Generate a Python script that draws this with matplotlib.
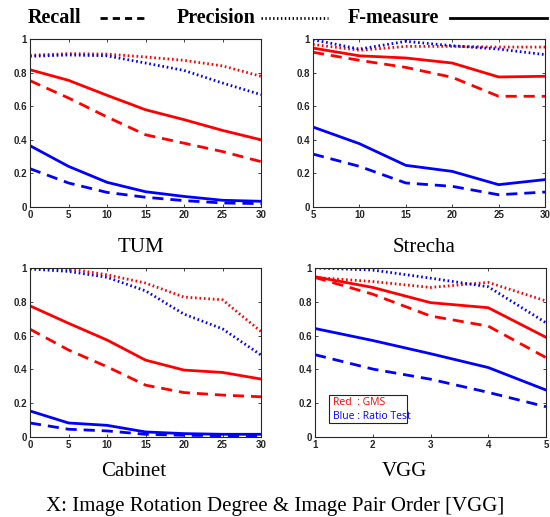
import matplotlib
matplotlib.use("Agg")
import matplotlib.pyplot as plt
from matplotlib.lines import Line2D

# ---- data ----
x_rot = [0, 5, 10, 15, 20, 25, 30]
x_strecha = [5, 10, 15, 20, 25, 30]
x_vgg = [1, 2, 3, 4, 5]

tum_gms_prec = [0.903, 0.913, 0.910, 0.893, 0.873, 0.840, 0.778]
tum_rt_prec = [0.897, 0.905, 0.900, 0.857, 0.813, 0.738, 0.669]
tum_gms_f = [0.817, 0.754, 0.665, 0.579, 0.520, 0.456, 0.400]
tum_gms_rec = [0.752, 0.649, 0.536, 0.430, 0.380, 0.330, 0.270]
tum_rt_f = [0.365, 0.242, 0.147, 0.091, 0.063, 0.040, 0.034]
tum_rt_rec = [0.228, 0.143, 0.087, 0.058, 0.038, 0.024, 0.020]

str_gms_prec = [0.968, 0.933, 0.956, 0.956, 0.952, 0.952]
str_rt_prec = [0.996, 0.940, 0.986, 0.960, 0.940, 0.907]
str_gms_f = [0.946, 0.900, 0.887, 0.857, 0.774, 0.778]
str_gms_rec = [0.921, 0.873, 0.831, 0.772, 0.659, 0.659]
str_rt_f = [0.476, 0.377, 0.248, 0.212, 0.133, 0.163]
str_rt_rec = [0.315, 0.242, 0.143, 0.123, 0.073, 0.089]

cab_gms_prec = [1.000, 0.996, 0.960, 0.911, 0.828, 0.812, 0.624]
cab_rt_prec = [0.994, 0.980, 0.945, 0.865, 0.727, 0.640, 0.485]
cab_gms_f = [0.776, 0.673, 0.574, 0.455, 0.396, 0.382, 0.343]
cab_gms_rec = [0.638, 0.515, 0.416, 0.307, 0.263, 0.248, 0.238]
cab_rt_f = [0.154, 0.083, 0.069, 0.030, 0.020, 0.016, 0.016]
cab_rt_rec = [0.083, 0.046, 0.036, 0.016, 0.010, 0.008, 0.008]

vgg_gms_prec = [0.944, 0.920, 0.885, 0.915, 0.805]
vgg_rt_prec = [1.000, 0.988, 0.940, 0.889, 0.676]
vgg_gms_f = [0.948, 0.885, 0.795, 0.765, 0.590]
vgg_gms_rec = [0.944, 0.845, 0.716, 0.656, 0.470]
vgg_rt_f = [0.642, 0.571, 0.493, 0.411, 0.278]
vgg_rt_rec = [0.487, 0.402, 0.342, 0.264, 0.179]

titles = ["TUM", "Strecha", "Cabinet", "VGG"]
y_ticks = [0, 0.2, 0.4, 0.6, 0.8, 1]
y_tick_labels = ["0", "0.2", "0.4", "0.6", "0.8", "1"]

panels = [
    (x_rot, tum_gms_prec, tum_rt_prec, tum_gms_f, tum_gms_rec, tum_rt_f, tum_rt_rec),
    (x_strecha, str_gms_prec, str_rt_prec, str_gms_f, str_gms_rec, str_rt_f, str_rt_rec),
    (x_rot, cab_gms_prec, cab_rt_prec, cab_gms_f, cab_gms_rec, cab_rt_f, cab_rt_rec),
    (x_vgg, vgg_gms_prec, vgg_rt_prec, vgg_gms_f, vgg_gms_rec, vgg_rt_f, vgg_rt_rec),
]

W, H = 550.0, 517.0
def px_axes(l, r, t, b):
    return [l / W, 1 - b / H, (r - l) / W, (b - t) / H]

positions = [
    px_axes(30, 261, 39, 207),
    px_axes(313, 545, 39, 207),
    px_axes(30, 261, 268, 437),
    px_axes(315, 546, 268, 437),
]
title_xy = [(141, 247), (424, 247), (134, 472), (404, 472)]

RED = "#ff0000"
BLUE = "#0000ff"
LW = 2.0
dotted = (0, (0.6, 1.0))
dashed = (0, (4.0, 2.5))

fig = plt.figure(figsize=(5.5, 5.17), dpi=100)
tick_font = dict(family="Liberation Sans", weight="bold", size=7)

for i, (pos, data, title) in enumerate(zip(positions, panels, titles)):
    x, gp, rp, gf, gr, rf, rr = data
    ax = fig.add_axes(pos)
    ax.plot(x, gp, color=RED, lw=LW, linestyle=dotted)
    ax.plot(x, rp, color=BLUE, lw=LW, linestyle=dotted)
    ax.plot(x, gf, color=RED, lw=LW, linestyle="-")
    ax.plot(x, gr, color=RED, lw=LW, linestyle=dashed)
    ax.plot(x, rf, color=BLUE, lw=LW, linestyle="-")
    ax.plot(x, rr, color=BLUE, lw=LW, linestyle=dashed)
    ax.set_xlim(x[0], x[-1])
    ax.set_ylim(0, 1)
    ax.set_xticks(x)
    ax.set_xticklabels([str(v) for v in x], fontdict=tick_font)
    ax.set_yticks(y_ticks)
    ax.set_yticklabels(y_tick_labels, fontdict=tick_font)
    ax.tick_params(direction="in", top=True, right=True, length=2.5, width=0.6,
                   pad=2, colors="#262626")
    for s in ax.spines.values():
        s.set_linewidth(0.8)
        s.set_color("#262626")
    tx, ty = title_xy[i]
    fig.text(tx / W, 1 - ty / H, title, ha="center", va="center",
             family="Liberation Serif", size=15)
    if i == 3:
        ax.text(0.077, 0.207, "Red  : GMS", transform=ax.transAxes, color=RED,
                family="Open Sans", size=7.5, va="center")
        ax.text(0.077, 0.124, "Blue : Ratio Test", transform=ax.transAxes, color=BLUE,
                family="Open Sans", size=7.5, va="center")
        ax.add_patch(plt.Rectangle((0.06, 0.083), 0.34, 0.166, transform=ax.transAxes,
                                   fill=False, edgecolor="#222222", lw=0.8))

# top legend
legend_y = 1 - 18 / H
leg_font = dict(family="Liberation Serif", weight="bold", size=14.5)
fig.text(28 / W, legend_y, "Recall", ha="left", va="center", **leg_font)
fig.add_artist(Line2D([100 / W, 148 / W], [legend_y, legend_y], color="black",
                      lw=2, linestyle=(0, (2.6, 1.8))))
fig.text(177 / W, legend_y, "Precision", ha="left", va="center", **leg_font)
fig.add_artist(Line2D([261 / W, 328 / W], [legend_y, legend_y], color="black",
                      lw=2, linestyle=(0, (0.5, 0.9))))
fig.text(348 / W, legend_y, "F-measure", ha="left", va="center", **leg_font)
fig.add_artist(Line2D([450 / W, 547 / W], [legend_y, legend_y], color="black",
                      lw=2, linestyle="-"))

fig.text(0.5, 1 - 507 / H, "X: Image Rotation Degree & Image Pair Order [VGG]",
         ha="center", va="center", family="Liberation Serif", size=15)

fig.savefig("out.png", dpi=100)
